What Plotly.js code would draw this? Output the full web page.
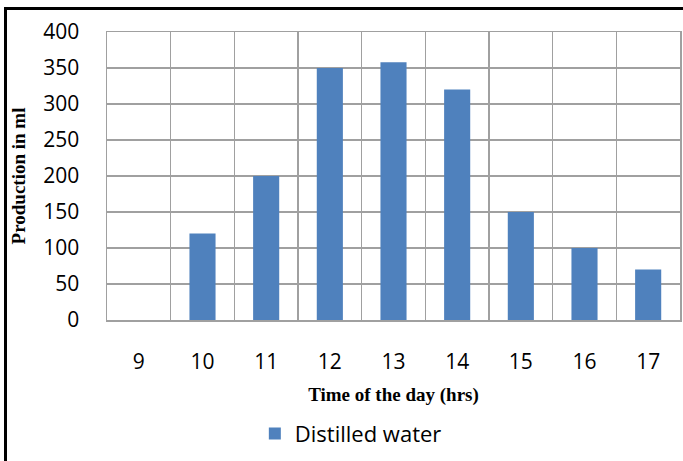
<!DOCTYPE html>
<html>
<head>
<meta charset="utf-8">
<script src="https://cdn.plot.ly/plotly-3.0.1.min.js"></script>
<style>
  html, body { margin: 0; padding: 0; background: #fff; overflow: hidden; }
  #frame { position: absolute; left: 4px; top: 7px; width: 700px; height: 480px; border-top: 3px solid #000; border-left: 3px solid #000; }
  #chart { position: absolute; left: 0; top: 0; width: 683px; height: 461px; }
</style>
</head>
<body>
<div id="frame"></div>
<div id="chart"></div>
<script>
const hours = [9, 10, 11, 12, 13, 14, 15, 16, 17];
const production = [0, 120, 200, 350, 358, 320, 150, 100, 70];
const seriesName = 'Distilled water';
const xTitle = 'Time of the day (hrs)';
const yTitle = 'Production in ml';
const yTicks = [0, 50, 100, 150, 200, 250, 300, 350, 400];

const trace = {
  type: 'bar',
  x: hours,
  y: production,
  name: seriesName,
  marker: { color: '#4F81BD' },
  width: 0.41,
  showlegend: true
};

const layout = {
  width: 683,
  height: 461,
  margin: { l: 107, r: 3, t: 32, b: 141 },
  paper_bgcolor: 'rgba(0,0,0,0)',
  plot_bgcolor: '#fff',
  font: { family: 'Open Sans', color: '#000' },
  showlegend: true,
  legend: {
    orientation: 'h',
    x: 0.258, xanchor: 'left',
    y: -0.395, yanchor: 'middle',
    font: { family: 'Open Sans', size: 22, color: '#000' },
    itemwidth: 30
  },
  xaxis: {
    range: [8.5, 17.5],
    tickmode: 'array',
    tickvals: hours,
    ticktext: hours.map(String),
    ticks: '',
    showgrid: false,
    zeroline: false,
    showline: true,
    linecolor: '#a0a0a0',
    linewidth: 1.5,
    mirror: true,
    ticklabelstandoff: 22,
    tickfont: { family: 'Open Sans', size: 21, color: '#000' },
    minor: { tick0: 8.5, dtick: 1, showgrid: true, gridcolor: '#a0a0a0', gridwidth: 1.5, ticks: '' },
    title: { text: xTitle, font: { family: 'Liberation Serif', size: 19, color: '#000', weight: 'bold' }, standoff: 14 }
  },
  yaxis: {
    range: [0, 400],
    tickmode: 'array',
    tickvals: yTicks,
    ticks: '',
    showgrid: true,
    gridcolor: '#a0a0a0',
    gridwidth: 1.5,
    zeroline: false,
    showline: true,
    linecolor: '#a0a0a0',
    linewidth: 1.5,
    mirror: true,
    ticklabelstandoff: 22,
    tickfont: { family: 'Open Sans', size: 21, color: '#000' },
    title: { text: yTitle, font: { family: 'Liberation Serif', size: 19, color: '#000', weight: 'bold' }, standoff: 12 }
  }
};

Plotly.newPlot('chart', [trace], layout, { displayModeBar: false, staticPlot: true });
</script>
</body>
</html>
